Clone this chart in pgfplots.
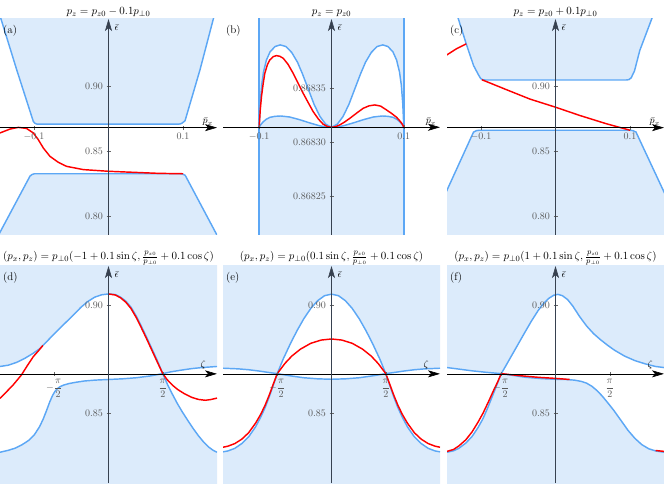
\documentclass[border=0pt]{standalone}
\usepackage{pgfplots}
\pgfplotsset{compat=1.18}
\usetikzlibrary{arrows.meta}
\definecolor{bandfill}{RGB}{220,235,251}
\definecolor{bandline}{RGB}{92,167,245}
\definecolor{axisgray}{RGB}{55,65,80}
\pgfplotsset{
  panel/.style={
    scale only axis, width=217pt,
    axis lines=middle, axis on top,
    enlargelimits=false, clip=true,
    scaled x ticks=false, scaled y ticks=false,
    x axis line style={black, line width=0.6pt, -{Stealth[length=12pt,width=7pt,inset=3pt]}},
    y axis line style={axisgray, line width=0.6pt, -{Stealth[length=12pt,width=7pt,inset=3pt]}},
    tick style={black!60, line width=0.5pt},
    major tick length=4pt,
    tick label style={text=black!65, font=\fontsize{10}{12}\selectfont},
    title style={font=\fontsize{11}{13}\selectfont, inner sep=0pt, anchor=south, yshift=-4pt},
    xlabel style={at={(current axis.right of origin)}, anchor=south east, inner sep=0pt, xshift=-4pt, yshift=1.5pt},
    ylabel style={at={(current axis.above origin)}, rotate=0, anchor=north west, inner sep=0pt, xshift=6pt, yshift=-6pt},
    every axis plot/.append style={no markers},
  },
  toprow/.style={panel, height=216pt, xmin=-0.1456, xmax=0.1456,
    xtick={-0.1,0.1}, xticklabels={$-0.1$,$0.1$}, xlabel={$\bar{p}_x$}, ylabel={$\bar{\epsilon}$}},
  topshift/.style={y filter/.expression={y-0.8682}, ymin=-0.0829, ymax=0.0839,
    ytick={-0.0682,-0.0182,0.0318}, yticklabels={$0.80$,$0.85$,$0.90$}},
  botrow/.style={panel, height=217pt, xmin=-3.14159, xmax=3.14159,
    y filter/.expression={y-0.8682}, ymin=-0.0504, ymax=0.0498,
    ytick={-0.0182,0.0318}, yticklabels={$0.85$,$0.90$},
    xtick={-1.5708,1.5708}, xticklabels={$\displaystyle-\frac{\pi}{2}$,$\displaystyle\frac{\pi}{2}$},
    xlabel={$\zeta$}, ylabel={$\bar{\epsilon}$},
    title style={yshift=-1pt},
    xlabel style={xshift=-7pt, yshift=3pt}},
  bline/.style={draw=bandline, line width=1.45pt},
  rline/.style={draw=red, line width=1.45pt},
  bfill/.style={fill=bandfill, draw=none},
}
\newcommand{\plabel}[1]{\node[anchor=north west, inner sep=0pt, font=\fontsize{11}{13}\selectfont] at (rel axis cs:0,1) [xshift=3pt, yshift=-6pt] {#1};}
\begin{document}
\begin{tikzpicture}
\path[use as bounding box] (0,0) rectangle (664pt,485pt);
% ---------------- (a)
\begin{axis}[toprow, topshift, at={(0pt,250pt)}, anchor=south west,
  title={$p_z=p_{z0}-0.1p_{\perp 0}$}]
\addplot[bfill] coordinates {(-0.150,0.9620) (-0.1443,0.9522) (-0.1232,0.9129) (-0.1009,0.8730) (-0.0990,0.8717) (-0.0965,0.8710) (-0.0940,0.8709) (0.0940,0.8709) (0.0965,0.8711) (0.0990,0.8718) (0.1027,0.8735) (0.1228,0.9129) (0.1407,0.9522) (0.150,0.9720) (0.150,1.0) (-0.150,1.0)} -- cycle;
\addplot[bfill] coordinates {(-0.150,0.7825) (-0.1456,0.7874) (-0.1054,0.8307) (-0.1030,0.8319) (-0.0995,0.8326) (0.0960,0.8326) (0.0995,0.8324) (0.1030,0.8313) (0.1443,0.7866) (0.150,0.7806) (0.150,0.70) (-0.150,0.70)} -- cycle;
\addplot[bline] coordinates {(-0.150,0.9620) (-0.1443,0.9522) (-0.1232,0.9129) (-0.1009,0.8730) (-0.0990,0.8717) (-0.0965,0.8710) (-0.0940,0.8709) (0.0940,0.8709) (0.0965,0.8711) (0.0990,0.8718) (0.1027,0.8735) (0.1228,0.9129) (0.1407,0.9522) (0.150,0.9720)};
\addplot[bline] coordinates {(-0.150,0.7825) (-0.1456,0.7874) (-0.1054,0.8307) (-0.1030,0.8319) (-0.0995,0.8326) (0.0960,0.8326) (0.0995,0.8324) (0.1030,0.8313) (0.1443,0.7866) (0.150,0.7806)};
\addplot[rline] coordinates {(-0.150,0.8634) (-0.1456,0.8641) (-0.1322,0.8671) (-0.121,0.8684) (-0.11,0.8676) (-0.1009,0.8641) (-0.0942,0.8589) (-0.0875,0.8525) (-0.0785,0.8460) (-0.0673,0.8414) (-0.0562,0.8383) (-0.0338,0.8358) (0,0.8345) (0.0336,0.8337) (0.0671,0.8329) (0.1,0.8326)};
\plabel{(a)}
\end{axis}
% ---------------- (b)
\begin{axis}[toprow, at={(223pt,250pt)}, anchor=south west, xmin=-0.150, xmax=0.150,
  ymin=-9.94, ymax=9.99, ytick={-6.4,-1.4,3.6}, yticklabels={$0.86825$,$0.86830$,$0.86835$},
  title={$p_z=p_{z0}$}]
\addplot[bfill] coordinates {(-0.1,0) (-0.0985,2.2) (-0.0965,3.9) (-0.094,5.1) (-0.090,6.2) (-0.085,6.95) (-0.078,7.45) (-0.071,7.6) (-0.063,7.45) (-0.055,6.9) (-0.047,6.0) (-0.040,4.9) (-0.032,3.5) (-0.024,2.1) (-0.016,1.0) (-0.008,0.28) (0,0) (0.008,0.28) (0.016,1.0) (0.024,2.1) (0.032,3.5) (0.040,4.9) (0.047,6.0) (0.055,6.9) (0.063,7.45) (0.071,7.6) (0.078,7.45) (0.085,6.95) (0.090,6.2) (0.094,5.1) (0.0965,3.9) (0.0985,2.2) (0.1,0) (0.1,12) (-0.1,12)} -- cycle;
\addplot[bfill] coordinates {(-0.1,0) (-0.098,0.22) (-0.0945,0.50) (-0.090,0.75) (-0.085,0.92) (-0.078,1.01) (-0.070,1.04) (-0.058,0.95) (-0.044,0.70) (-0.030,0.40) (-0.016,0.13) (-0.008,0.035) (0,0) (0.008,0.035) (0.016,0.13) (0.030,0.40) (0.044,0.70) (0.058,0.95) (0.070,1.04) (0.078,1.01) (0.085,0.92) (0.090,0.75) (0.0945,0.50) (0.098,0.22) (0.1,0) (0.1,-12) (-0.1,-12)} -- cycle;
\addplot[bline] coordinates {(-0.1,0) (-0.0985,2.2) (-0.0965,3.9) (-0.094,5.1) (-0.090,6.2) (-0.085,6.95) (-0.078,7.45) (-0.071,7.6) (-0.063,7.45) (-0.055,6.9) (-0.047,6.0) (-0.040,4.9) (-0.032,3.5) (-0.024,2.1) (-0.016,1.0) (-0.008,0.28) (0,0) (0.008,0.28) (0.016,1.0) (0.024,2.1) (0.032,3.5) (0.040,4.9) (0.047,6.0) (0.055,6.9) (0.063,7.45) (0.071,7.6) (0.078,7.45) (0.085,6.95) (0.090,6.2) (0.094,5.1) (0.0965,3.9) (0.0985,2.2) (0.1,0)};
\addplot[bline] coordinates {(-0.1,0) (-0.098,0.22) (-0.0945,0.50) (-0.090,0.75) (-0.085,0.92) (-0.078,1.01) (-0.070,1.04) (-0.058,0.95) (-0.044,0.70) (-0.030,0.40) (-0.016,0.13) (-0.008,0.035) (0,0) (0.008,0.035) (0.016,0.13) (0.030,0.40) (0.044,0.70) (0.058,0.95) (0.070,1.04) (0.078,1.01) (0.085,0.92) (0.090,0.75) (0.0945,0.50) (0.098,0.22) (0.1,0)};
\addplot[bline] coordinates {(-0.1,-12) (-0.1,12)};
\addplot[bline] coordinates {(0.1,-12) (0.1,12)};
\addplot[rline] coordinates {(-0.1,0) (-0.0985,1.6) (-0.0968,2.83) (-0.0945,4.0) (-0.0922,4.98) (-0.0885,5.8) (-0.0853,6.21) (-0.0805,6.52) (-0.0761,6.61) (-0.0715,6.55) (-0.0668,6.37) (-0.060,5.8) (-0.053,4.98) (-0.046,4.05) (-0.0392,3.14) (-0.032,2.25) (-0.0254,1.45) (-0.018,0.75) (-0.0115,0.28) (-0.005,0.05) (0,0) (0.005,0.04) (0.0115,0.22) (0.018,0.48) (0.0254,0.83) (0.035,1.32) (0.0438,1.75) (0.052,1.98) (0.060,2.06) (0.068,1.95) (0.076,1.60) (0.083,1.28) (0.090,0.92) (0.095,0.55) (0.098,0.28) (0.1,0)};
\plabel{(b)}
\end{axis}
% ---------------- (c)
\begin{axis}[toprow, topshift, at={(447pt,250pt)}, anchor=south west,
  title={$p_z=p_{z0}+0.1p_{\perp 0}$}]
\addplot[bfill] coordinates {(-0.134,0.9588) (-0.1301,0.9517) (-0.1198,0.9329) (-0.110,0.9162) (-0.1037,0.9093) (-0.1005,0.9062) (-0.0975,0.9051) (-0.094,0.9050) (0.095,0.9050) (0.0985,0.9053) (0.1015,0.9066) (0.1060,0.9120) (0.1131,0.9278) (0.1288,0.9517) (0.134,0.9600) (0.150,1.0) (-0.150,1.0)} -- cycle;
\addplot[bfill] coordinates {(-0.150,0.8150) (-0.1457,0.8198) (-0.110,0.8648) (-0.1060,0.8659) (-0.1020,0.8662) (0.100,0.8662) (0.104,0.8659) (0.108,0.8648) (0.1435,0.8211) (0.150,0.8131) (0.150,0.70) (-0.150,0.70)} -- cycle;
\addplot[bline] coordinates {(-0.134,0.9588) (-0.1301,0.9517) (-0.1198,0.9329) (-0.110,0.9162) (-0.1037,0.9093) (-0.1005,0.9062) (-0.0975,0.9051) (-0.094,0.9050) (0.095,0.9050) (0.0985,0.9053) (0.1015,0.9066) (0.1060,0.9120) (0.1131,0.9278) (0.1288,0.9517) (0.134,0.9600)};
\addplot[bline] coordinates {(-0.150,0.8150) (-0.1457,0.8198) (-0.110,0.8648) (-0.1060,0.8659) (-0.1020,0.8662) (0.100,0.8662) (0.104,0.8659) (0.108,0.8648) (0.1435,0.8211) (0.150,0.8131)};
\addplot[rline] coordinates {(-0.0988,0.9052) (-0.0653,0.8974) (-0.034,0.8902) (0,0.8840) (0.0326,0.8776) (0.0683,0.8712) (0.1,0.8662)};
\addplot[rline] coordinates {(-0.150,0.9228) (-0.1457,0.9244) (-0.1332,0.9290) (-0.1198,0.9329)};
\plabel{(c)}
\end{axis}
% ---------------- (d)
\begin{axis}[botrow, at={(0pt,2pt)}, anchor=south west,
  title={$(p_x,p_z)=p_{\perp 0}(-1+0.1\sin\zeta,\frac{p_{z0}}{p_{\perp 0}}+0.1\cos\zeta)$}]
\addplot[bfill] coordinates {(-3.1416,0.8716) (-2.9,0.8722) (-2.66,0.8735) (-2.42,0.8754) (-2.18,0.8777) (-2.0,0.8797) (-1.8,0.8829) (-1.6,0.8862) (-1.4,0.8894) (-1.2,0.8925) (-1.0,0.8956) (-0.8,0.8989) (-0.6,0.9016) (-0.4,0.9036) (-0.2,0.9047) (0,0.9051) (0.2,0.9048) (0.35,0.9036) (0.5,0.9018) (0.65,0.8990) (0.8,0.8950) (0.95,0.8902) (1.1,0.8852) (1.25,0.8800) (1.4,0.8748) (1.5708,0.8683) (1.8,0.8691) (2.1,0.8699) (2.4,0.8706) (2.7,0.8711) (3.1416,0.8716) (3.1416,0.95) (-3.1416,0.95)} -- cycle;
\addplot[bfill] coordinates {(-3.1416,0.8320) (-2.9,0.8329) (-2.7,0.8339) (-2.5,0.8355) (-2.3,0.8376) (-2.15,0.8400) (-2.0,0.8437) (-1.9,0.8470) (-1.8,0.8510) (-1.7,0.8553) (-1.62,0.8582) (-1.55,0.8601) (-1.48,0.8614) (-1.4,0.8623) (-1.3,0.8630) (-1.15,0.8637) (-0.95,0.8643) (-0.7,0.8649) (-0.4,0.8653) (0,0.8656) (0.4,0.8659) (0.8,0.8664) (1.2,0.8672) (1.5708,0.8683) (1.7,0.8636) (1.85,0.8588) (2.0,0.8543) (2.15,0.8503) (2.3,0.8466) (2.45,0.8430) (2.6,0.8397) (2.75,0.8368) (2.9,0.8344) (3.02,0.8330) (3.1416,0.8320) (3.1416,0.80) (-3.1416,0.80)} -- cycle;
\addplot[bline] coordinates {(-3.1416,0.8716) (-2.9,0.8722) (-2.66,0.8735) (-2.42,0.8754) (-2.18,0.8777) (-2.0,0.8797) (-1.8,0.8829) (-1.6,0.8862) (-1.4,0.8894) (-1.2,0.8925) (-1.0,0.8956) (-0.8,0.8989) (-0.6,0.9016) (-0.4,0.9036) (-0.2,0.9047) (0,0.9051) (0.2,0.9048) (0.35,0.9036) (0.5,0.9018) (0.65,0.8990) (0.8,0.8950) (0.95,0.8902) (1.1,0.8852) (1.25,0.8800) (1.4,0.8748) (1.5708,0.8683) (1.8,0.8691) (2.1,0.8699) (2.4,0.8706) (2.7,0.8711) (3.1416,0.8716)};
\addplot[bline] coordinates {(-3.1416,0.8320) (-2.9,0.8329) (-2.7,0.8339) (-2.5,0.8355) (-2.3,0.8376) (-2.15,0.8400) (-2.0,0.8437) (-1.9,0.8470) (-1.8,0.8510) (-1.7,0.8553) (-1.62,0.8582) (-1.55,0.8601) (-1.48,0.8614) (-1.4,0.8623) (-1.3,0.8630) (-1.15,0.8637) (-0.95,0.8643) (-0.7,0.8649) (-0.4,0.8653) (0,0.8656) (0.4,0.8659) (0.8,0.8664) (1.2,0.8672) (1.5708,0.8683) (1.7,0.8636) (1.85,0.8588) (2.0,0.8543) (2.15,0.8503) (2.3,0.8466) (2.45,0.8430) (2.6,0.8397) (2.75,0.8368) (2.9,0.8344) (3.02,0.8330) (3.1416,0.8320)};
\addplot[rline] coordinates {(-3.1416,0.8569) (-2.96,0.8598) (-2.76,0.8631) (-2.52,0.8677) (-2.35,0.8720) (-2.18,0.8761) (-2.03,0.8788) (-1.90,0.8813)};
\addplot[rline] coordinates {(0,0.9051) (0.2,0.9046) (0.35,0.9033) (0.5,0.9013) (0.65,0.8984) (0.8,0.8943) (0.95,0.8895) (1.1,0.8845) (1.25,0.8793) (1.4,0.8741) (1.5708,0.8683) (1.7,0.8655) (1.85,0.8630) (2.0,0.8610) (2.2,0.8590) (2.4,0.8574) (2.6,0.8564) (2.8,0.8560) (2.95,0.8563) (3.1416,0.8570)};
\plabel{(d)}
\end{axis}
% ---------------- (e)
\begin{axis}[botrow, at={(223pt,2pt)}, anchor=south west,
  title={$(p_x,p_z)=p_{\perp 0}(0.1\sin\zeta,\frac{p_{z0}}{p_{\perp 0}}+0.1\cos\zeta)$}]
\addplot[bfill] coordinates {(-3.1416,0.8708) (-2.7,0.8705) (-2.4,0.8701) (-2.1,0.8695) (-1.8,0.8688) (-1.5708,0.8683) (-1.4,0.8750) (-1.2,0.8818) (-1.0,0.8881) (-0.8,0.8937) (-0.6,0.8984) (-0.4,0.9020) (-0.2,0.9043) (0,0.9050) (0.2,0.9043) (0.4,0.9020) (0.6,0.8984) (0.8,0.8937) (1.0,0.8881) (1.2,0.8818) (1.4,0.8750) (1.5708,0.8683) (1.8,0.8688) (2.1,0.8695) (2.4,0.8701) (2.7,0.8705) (3.1416,0.8708) (3.1416,0.95) (-3.1416,0.95)} -- cycle;
\addplot[bfill] coordinates {(-3.1416,0.8322) (-3.0,0.8326) (-2.8,0.8338) (-2.6,0.8360) (-2.4,0.8391) (-2.2,0.8437) (-2.05,0.8482) (-1.92,0.8527) (-1.8,0.8577) (-1.68,0.8632) (-1.5708,0.8683) (-1.2,0.8673) (-0.8,0.8664) (-0.4,0.8659) (0,0.8657) (0.4,0.8659) (0.8,0.8664) (1.2,0.8673) (1.5708,0.8683) (1.68,0.8632) (1.8,0.8577) (1.92,0.8527) (2.05,0.8482) (2.2,0.8437) (2.4,0.8391) (2.6,0.8360) (2.8,0.8338) (3.0,0.8326) (3.1416,0.8322) (3.1416,0.80) (-3.1416,0.80)} -- cycle;
\addplot[bline] coordinates {(-3.1416,0.8708) (-2.7,0.8705) (-2.4,0.8701) (-2.1,0.8695) (-1.8,0.8688) (-1.5708,0.8683) (-1.4,0.8750) (-1.2,0.8818) (-1.0,0.8881) (-0.8,0.8937) (-0.6,0.8984) (-0.4,0.9020) (-0.2,0.9043) (0,0.9050) (0.2,0.9043) (0.4,0.9020) (0.6,0.8984) (0.8,0.8937) (1.0,0.8881) (1.2,0.8818) (1.4,0.8750) (1.5708,0.8683) (1.8,0.8688) (2.1,0.8695) (2.4,0.8701) (2.7,0.8705) (3.1416,0.8708)};
\addplot[bline] coordinates {(-3.1416,0.8322) (-3.0,0.8326) (-2.8,0.8338) (-2.6,0.8360) (-2.4,0.8391) (-2.2,0.8437) (-2.05,0.8482) (-1.92,0.8527) (-1.8,0.8577) (-1.68,0.8632) (-1.5708,0.8683) (-1.2,0.8673) (-0.8,0.8664) (-0.4,0.8659) (0,0.8657) (0.4,0.8659) (0.8,0.8664) (1.2,0.8673) (1.5708,0.8683) (1.68,0.8632) (1.8,0.8577) (1.92,0.8527) (2.05,0.8482) (2.2,0.8437) (2.4,0.8391) (2.6,0.8360) (2.8,0.8338) (3.0,0.8326) (3.1416,0.8322)};
\addplot[rline] coordinates {(-3.1416,0.8343) (-3.0,0.8348) (-2.8,0.8360) (-2.6,0.8380) (-2.4,0.8410) (-2.2,0.8454) (-2.05,0.8495) (-1.92,0.8538) (-1.8,0.8585) (-1.68,0.8637) (-1.5708,0.8683) (-1.35,0.8730) (-1.15,0.8764) (-0.9,0.8796) (-0.6,0.8823) (-0.3,0.8838) (0,0.8843) (0.3,0.8838) (0.6,0.8823) (0.9,0.8796) (1.15,0.8764) (1.35,0.8730) (1.5708,0.8683) (1.68,0.8637) (1.8,0.8585) (1.92,0.8538) (2.05,0.8495) (2.2,0.8454) (2.4,0.8410) (2.6,0.8380) (2.8,0.8360) (3.0,0.8348) (3.1416,0.8343)};
\plabel{(e)}
\end{axis}
% ---------------- (f)
\begin{axis}[botrow, at={(447pt,2pt)}, anchor=south west,
  title={$(p_x,p_z)=p_{\perp 0}(1+0.1\sin\zeta,\frac{p_{z0}}{p_{\perp 0}}+0.1\cos\zeta)$}]
\addplot[bfill] coordinates {(-3.1416,0.8711) (-2.8,0.8704) (-2.42,0.8696) (-2.0,0.8689) (-1.5708,0.8683) (-1.45,0.8716) (-1.3,0.8758) (-1.1,0.8814) (-0.9,0.8870) (-0.7,0.8925) (-0.5,0.8975) (-0.35,0.9006) (-0.2,0.9030) (-0.05,0.9045) (0.07,0.9049) (0.2,0.9043) (0.35,0.9025) (0.5,0.8995) (0.7,0.8946) (0.9,0.8903) (1.1,0.8868) (1.3,0.8840) (1.5,0.8815) (1.7,0.8792) (2.0,0.8764) (2.3,0.8743) (2.6,0.8728) (2.9,0.8716) (3.1416,0.8711) (3.1416,0.95) (-3.1416,0.95)} -- cycle;
\addplot[bfill] coordinates {(-3.1416,0.8320) (-2.95,0.8327) (-2.8,0.8338) (-2.6,0.8362) (-2.42,0.8392) (-2.25,0.8432) (-2.1,0.8475) (-1.95,0.8530) (-1.85,0.8570) (-1.75,0.8610) (-1.65,0.8651) (-1.5708,0.8683) (-1.2,0.8674) (-0.86,0.8666) (-0.4,0.8660) (0,0.8657) (0.3,0.8656) (0.55,0.8653) (0.75,0.8647) (0.9,0.8639) (1.05,0.8625) (1.2,0.8605) (1.35,0.8580) (1.5,0.8551) (1.68,0.8515) (1.9,0.8466) (2.1,0.8421) (2.3,0.8384) (2.5,0.8355) (2.7,0.8336) (2.9,0.8326) (3.1416,0.8320) (3.1416,0.80) (-3.1416,0.80)} -- cycle;
\addplot[bline] coordinates {(-3.1416,0.8711) (-2.8,0.8704) (-2.42,0.8696) (-2.0,0.8689) (-1.5708,0.8683) (-1.45,0.8716) (-1.3,0.8758) (-1.1,0.8814) (-0.9,0.8870) (-0.7,0.8925) (-0.5,0.8975) (-0.35,0.9006) (-0.2,0.9030) (-0.05,0.9045) (0.07,0.9049) (0.2,0.9043) (0.35,0.9025) (0.5,0.8995) (0.7,0.8946) (0.9,0.8903) (1.1,0.8868) (1.3,0.8840) (1.5,0.8815) (1.7,0.8792) (2.0,0.8764) (2.3,0.8743) (2.6,0.8728) (2.9,0.8716) (3.1416,0.8711)};
\addplot[bline] coordinates {(-3.1416,0.8320) (-2.95,0.8327) (-2.8,0.8338) (-2.6,0.8362) (-2.42,0.8392) (-2.25,0.8432) (-2.1,0.8475) (-1.95,0.8530) (-1.85,0.8570) (-1.75,0.8610) (-1.65,0.8651) (-1.5708,0.8683) (-1.2,0.8674) (-0.86,0.8666) (-0.4,0.8660) (0,0.8657) (0.3,0.8656) (0.55,0.8653) (0.75,0.8647) (0.9,0.8639) (1.05,0.8625) (1.2,0.8605) (1.35,0.8580) (1.5,0.8551) (1.68,0.8515) (1.9,0.8466) (2.1,0.8421) (2.3,0.8384) (2.5,0.8355) (2.7,0.8336) (2.9,0.8326) (3.1416,0.8320)};
\addplot[rline] coordinates {(-3.1416,0.8324) (-2.95,0.8333) (-2.8,0.8349) (-2.6,0.8377) (-2.42,0.8413) (-2.25,0.8457) (-2.1,0.8500) (-1.95,0.8550) (-1.8,0.8603) (-1.68,0.8643) (-1.5708,0.8683) (-1.0,0.8673) (-0.5,0.8666) (0,0.8661) (0.41,0.8656)};
\addplot[rline] coordinates {(2.90,0.8328) (3.1416,0.8324)};
\plabel{(f)}
\end{axis}
\end{tikzpicture}
\end{document}
